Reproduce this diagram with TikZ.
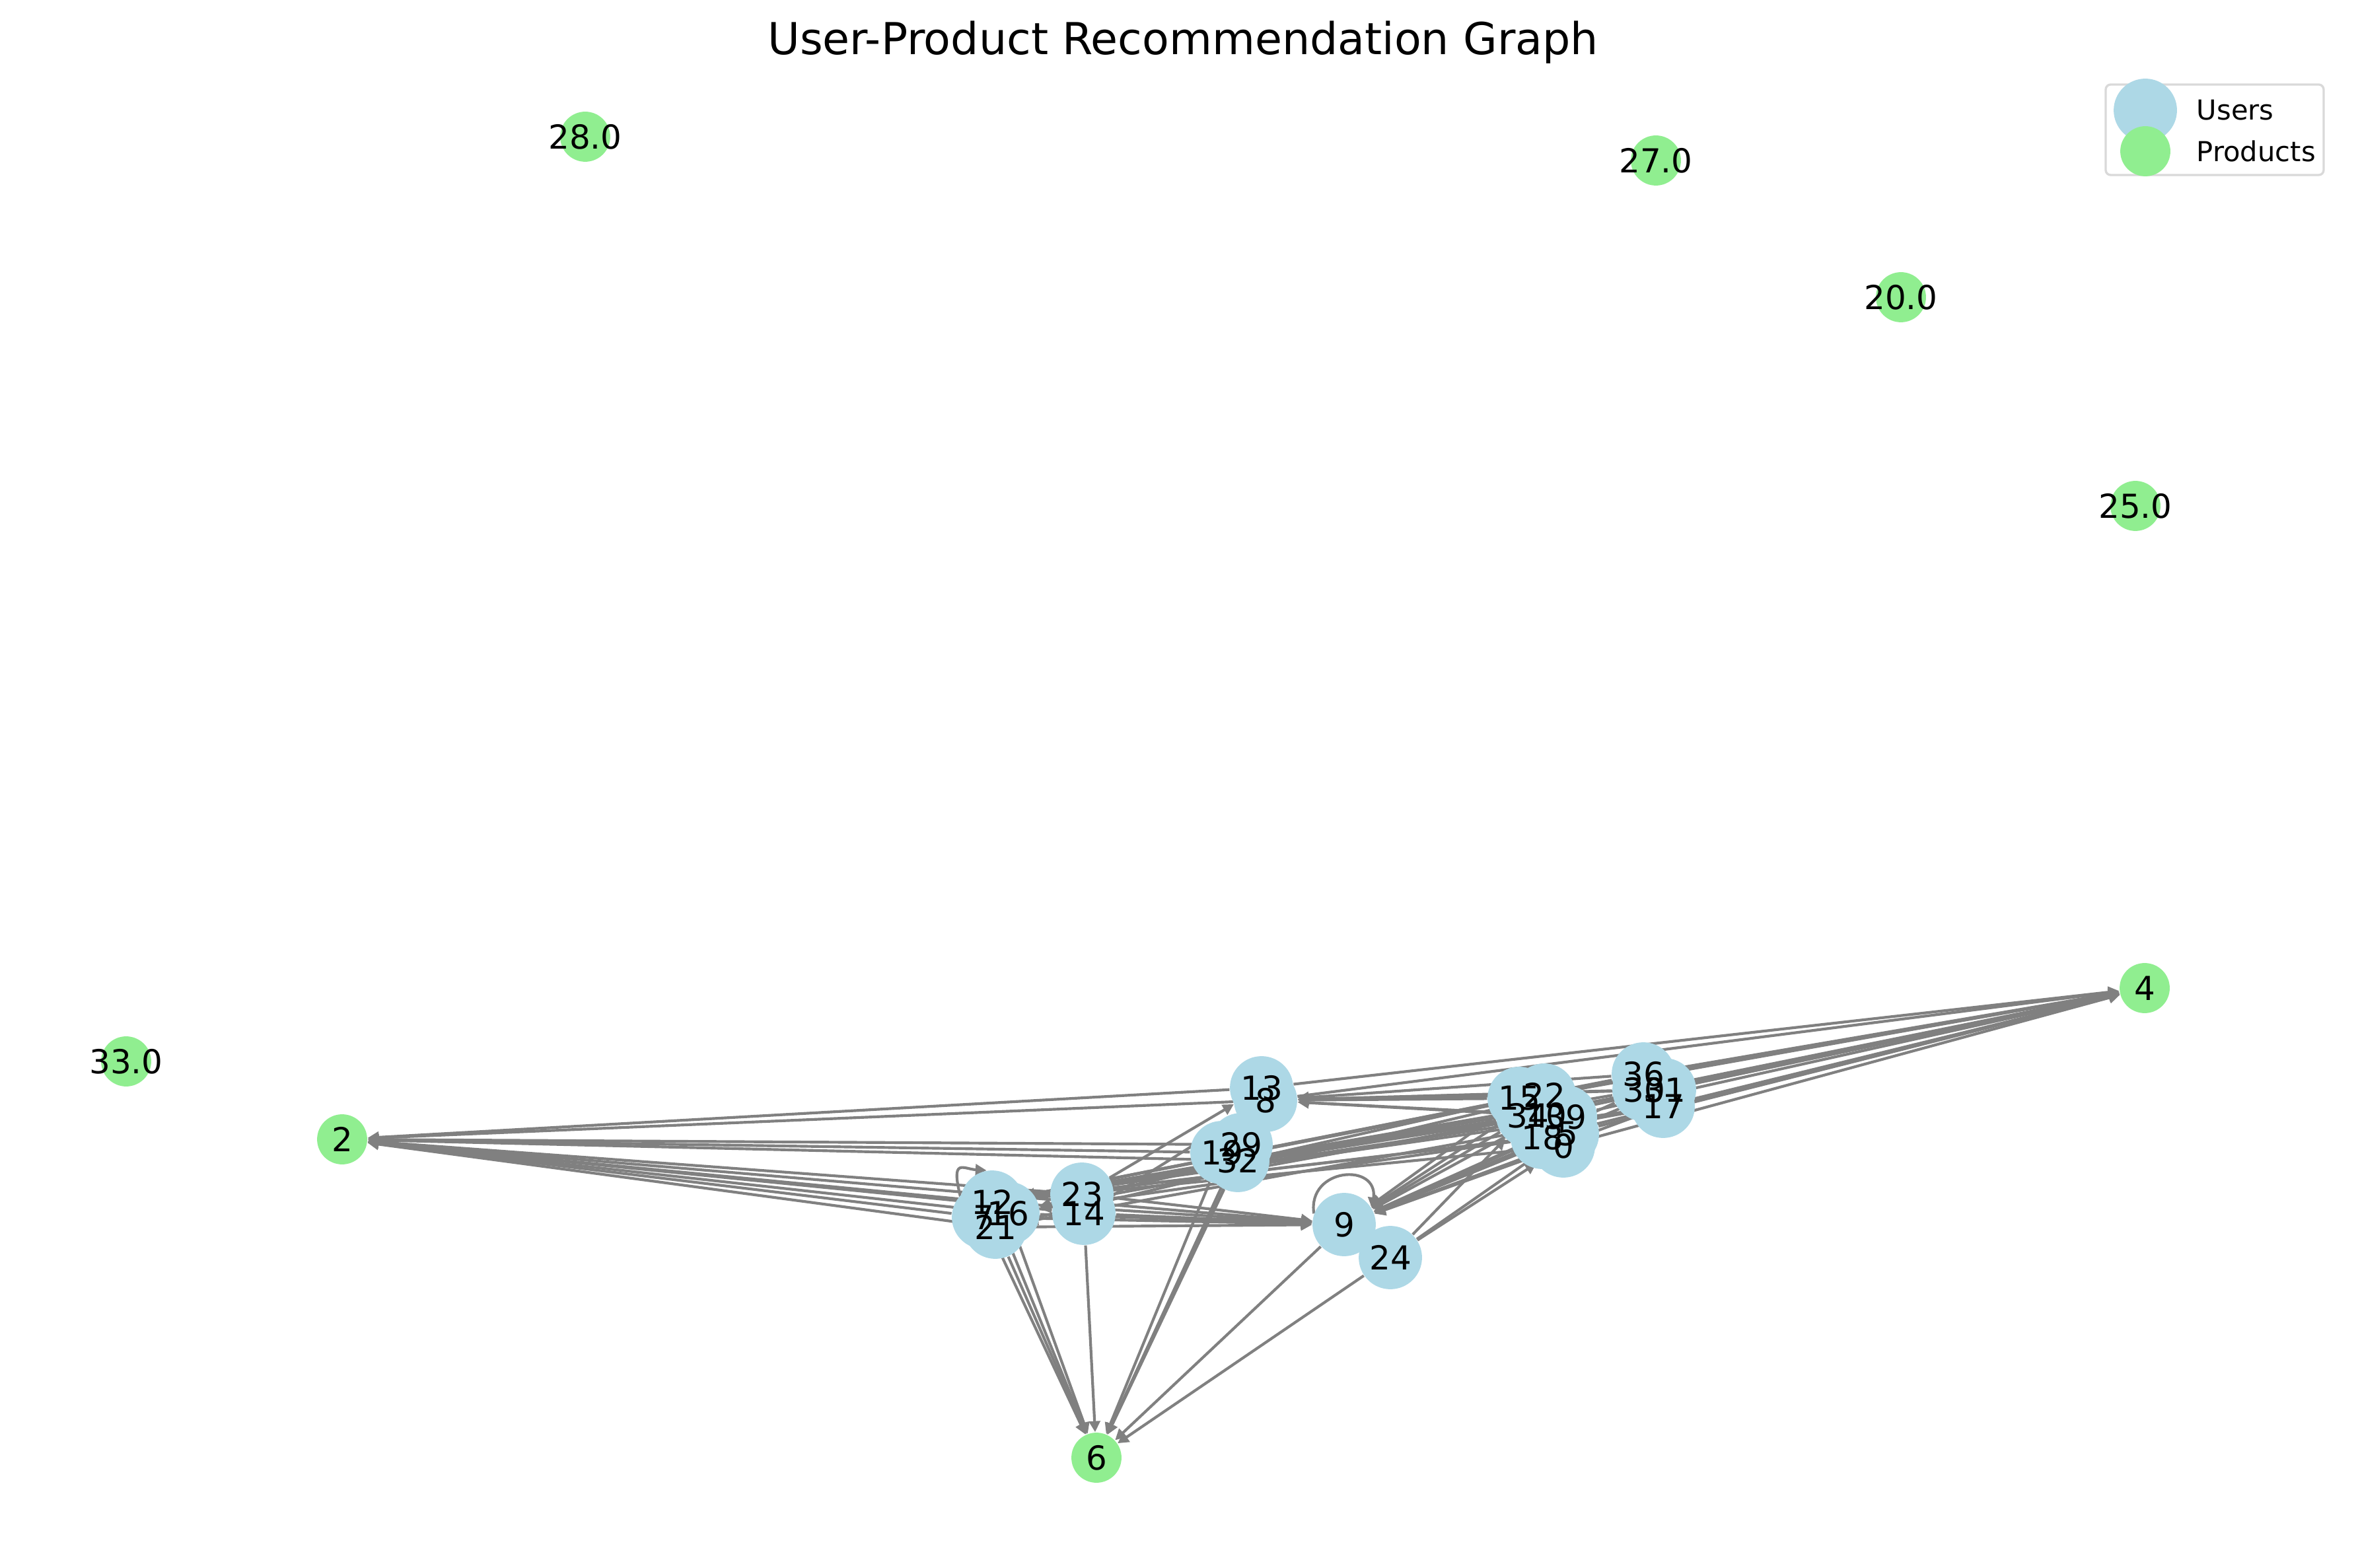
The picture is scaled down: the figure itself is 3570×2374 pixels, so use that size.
\documentclass[tikz,border=0pt]{standalone}
\usepackage{fontspec}
\setmainfont{DejaVu Sans}
\usetikzlibrary{arrows.meta}
\definecolor{ublue}{HTML}{ADD8E6}
\definecolor{pgreen}{HTML}{90EE90}
\definecolor{egray}{HTML}{808080}
\definecolor{lgray}{HTML}{D9D9D9}
\pgfdeclarelayer{bg}
\pgfsetlayers{bg,main}
\tikzset{
  usernode/.style={circle, fill=ublue, minimum size=23pt, inner sep=0pt},
  prodnode/.style={circle, fill=pgreen, minimum size=18.2pt, inner sep=0pt},
  lbl/.style={font=\fontsize{12}{14}\selectfont, inner sep=0pt},
  edgest/.style={draw=egray, line width=1pt, -{Triangle[length=4pt,width=4pt]}},
}
\begin{document}
\begin{tikzpicture}[x=0.24pt,y=-0.24pt]
\useasboundingbox (0,0) rectangle (3570,2374);
% user nodes
\foreach \n/\x/\y in {12/1502/1820, 7/1489/1843, 16/1526/1837, 21/1507/1858,
  23/1638/1808, 14/1641/1837, 13/1910/1647, 8/1916/1666,
  19/1850/1745, 29/1879/1733, 32/1874/1757, 9/2035/1854, 24/2105/1904,
  15/2300/1663, 22/2338/1658, 34/2313/1689, 10/2340/1688, 39/2370/1691,
  18/2335/1722, 5/2373/1717, 0/2367/1735,
  36/2488/1626, 30/2489/1650, 31/2520/1650, 17/2518/1675}
  \node[usernode] (n\n) at (\x,\y) {};
% product nodes
\foreach \n/\x/\y in {2/518/1725, 4/3247/1496, 6/1660/2207}
  \node[prodnode] (n\n) at (\x,\y) {};
\foreach \n/\x/\y in {28/886/207, 27/2507/243, 20/2878/450, 25/3233/766, 33/191/1607}
  \node[prodnode] (f\n) at (\x,\y) {};
% labels
\foreach \n in {12,7,16,21,23,14,13,8,19,29,32,9,24,15,22,34,10,39,18,5,0,36,30,31,17,2,4,6}
  \node[lbl] at (n\n.center) {\n};
\foreach \n in {28,27,20,25,33}
  \node[lbl] at (f\n.center) {\n.0};
% edges
\begin{pgfonlayer}{bg}
\foreach \s in {15,22,34,10,39,18,5,0,36,30,31,17,13,8}
  \draw[edgest] (n\s) -- (n4);
\foreach \s in {13,8,19,29,32,12,7,16,21,23,14,9}
  \draw[edgest] (n\s) -- (n2);
\foreach \s in {12,7,16,21,14,19,29,32,8,9,24}
  \draw[edgest] (n\s) -- (n6);
\foreach \s in {12,7,16,21,23,14,15,22,34,10,18,5,0,17,30,31}
  \draw[edgest] (n\s) -- (n9);
\foreach \s in {15,22,10,36,30,31,39}
  \draw[edgest] (n\s) -- (n8);
\foreach \s in {15,22,34,10,39,18,5,0,36,30,31,17}
  \draw[edgest] (n\s) -- (n12);
\foreach \s in {15,10,18}
  \draw[edgest] (n\s) -- (n16);
\foreach \s in {36,17}
  \draw[edgest] (n\s) -- (n21);
\draw[edgest] (n23) -- (n13);
\draw[edgest] (n14) -- (n8);
\foreach \t in {34,0,5}
  \draw[edgest] (n24) -- (n\t);
\draw[edgest] (n9.160) .. controls +(-10,-70) and +(10,-70) .. (n9.30);
\draw[edgest] (n12.170) .. controls +(-15,-60) and +(-35,-2) .. (n12.100);
\end{pgfonlayer}
% title
\node[font=\fontsize{16}{19}\selectfont, anchor=base, inner sep=0pt] (title) at (1791,83) {User-Product Recommendation Graph};
% legend
\draw[lgray, line width=0.8pt, fill=white, rounded corners=1.8pt] (3188,128) rectangle (3518,265);
\node[usernode] (lu) at (3248,167) {};
\node[prodnode] (lp) at (3248,229) {};
\node[font=\fontsize{10}{12}\selectfont, anchor=west, inner sep=0pt] (lut) at (3325,167) {Users};
\node[font=\fontsize{10}{12}\selectfont, anchor=west, inner sep=0pt] (lpt) at (3325,229) {Products};
\end{tikzpicture}
\end{document}
